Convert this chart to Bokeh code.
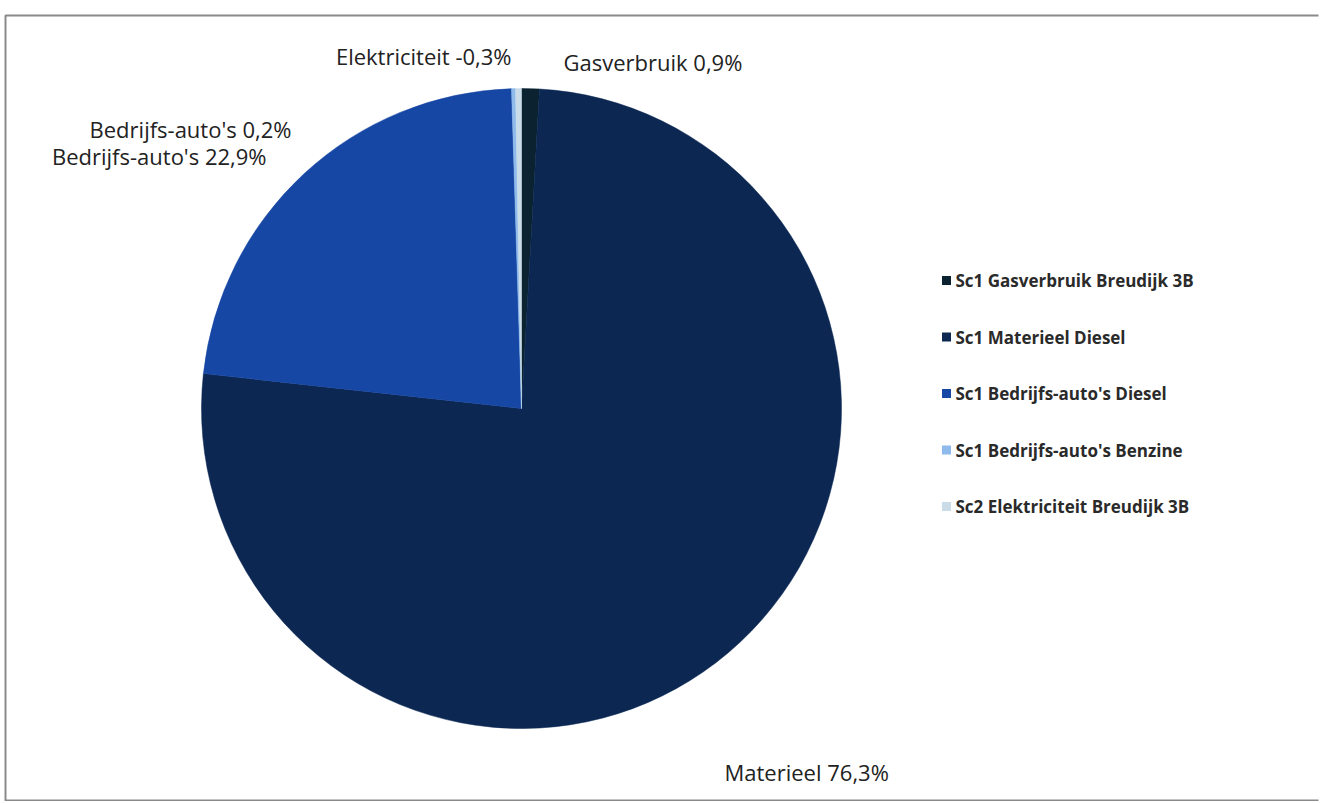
import math
from bokeh.plotting import figure
from bokeh.models import Range1d, ColumnDataSource
from bokeh.core.properties import value
from bokeh.embed import file_html
from bokeh.resources import INLINE

# ---- data ----
legend_names = [
    "Sc1 Gasverbruik Breudijk 3B",
    "Sc1 Materieel Diesel",
    "Sc1 Bedrijfs-auto's Diesel",
    "Sc1 Bedrijfs-auto's Benzine",
    "Sc2 Elektriciteit Breudijk 3B",
]
label_names = ["Gasverbruik", "Materieel", "Bedrijfs-auto's", "Bedrijfs-auto's", "Elektriciteit"]
percentages = [0.9, 76.3, 22.9, 0.2, -0.3]
colors = ["#0b2330", "#0b2752", "#1747a4", "#8fbbec", "#c9dce8"]

W, H = 1324, 801

p = figure(width=W, height=H, output_backend="svg", toolbar_location=None,
           x_range=Range1d(0, W), y_range=Range1d(0, H),
           min_border=0, min_border_left=0, min_border_right=0,
           min_border_top=0, min_border_bottom=0)
p.axis.visible = False
p.grid.visible = False
p.outline_line_color = None
p.background_fill_color = "white"
p.border_fill_color = "white"

def sy(y):  # screen y -> data y
    return H - y

# frame border (open on the right, as in the cropped original)
p.line(x=[W - 6, 5, 5, W - 6], y=[sy(15), sy(15), sy(800), sy(800)],
       line_color="#8a8a8a", line_width=2)

# pie
cx, cy, r = 521, sy(408), 320
mags = [abs(v) for v in percentages]
total = sum(mags)
starts, ends = [], []
cum = 0.0
for m in mags:
    starts.append(math.pi / 2 - 2 * math.pi * cum / total)
    cum += m
    ends.append(math.pi / 2 - 2 * math.pi * cum / total)

src = ColumnDataSource(dict(start=starts, end=ends, color=colors, name=legend_names))
p.wedge(x=cx, y=cy, radius=r, radius_units="screen", start_angle="start", end_angle="end",
        direction="clock", fill_color="color", line_color="color", line_width=0.5, source=src)

# data labels
def fmt(v):
    return ("%.1f" % v).replace(".", ",") + "%"

lab_pos = [  # (x, screen y, align)
    (563, 61, "left"),
    (724, 771, "left"),
    (266, 155, "right"),
    (291, 128, "right"),
    (511, 55, "right"),
]
for name, v, (x, y, al) in zip(label_names, percentages, lab_pos):
    p.text(x=[x], y=[sy(y)], text=[f"{name} {fmt(v)}"], text_align=al,
           text_baseline="middle", text_font=value("Open Sans"),
           text_font_size="22px", text_color="#222222")

# legend
ly0, dy = 280, 56.5
for i, (name, c) in enumerate(zip(legend_names, colors)):
    yy = sy(ly0 + i * dy)
    p.rect(x=[946], y=[yy], width=9, height=9, width_units="screen", height_units="screen",
           fill_color=c, line_color=None)
    p.text(x=[955], y=[yy], text=[name], text_align="left", text_baseline="middle",
           text_font=value("Open Sans"), text_font_style="bold",
           text_font_size="17px", text_color="#2a2a2a")

open("out.html", "w").write(file_html(p, INLINE))
